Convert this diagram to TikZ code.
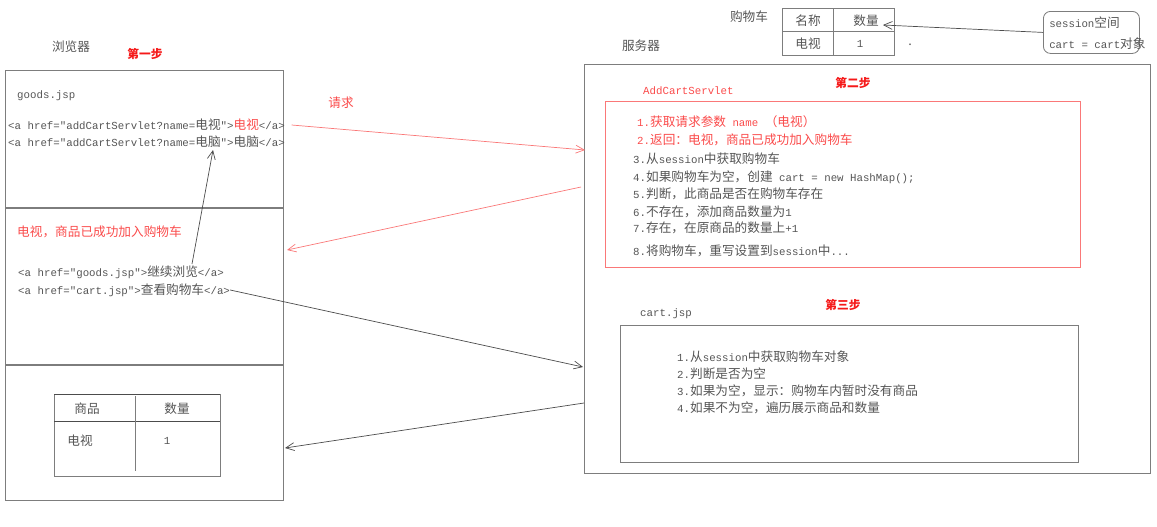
\documentclass[tikz,border=0pt]{standalone}
\usepackage{fontspec}
\setmainfont{Noto Sans CJK SC}
\setmonofont[Scale=0.85]{Liberation Mono}
\usetikzlibrary{positioning,arrows.meta}
\definecolor{boxgray}{RGB}{125,125,125}
\definecolor{txtgray}{RGB}{85,85,85}
\definecolor{stepred}{RGB}{245,25,25}
\definecolor{linkred}{RGB}{250,75,75}
\definecolor{linered}{RGB}{250,120,120}
\newcommand{\asc}[1]{\texttt{#1}}

\begin{document}
\begin{tikzpicture}[x=0.03cm,y=-0.03cm,
  every node/.style={font=\fontsize{10.8}{13}\selectfont, text=txtgray, inner sep=0pt},
  box/.style={draw=boxgray, line width=0.9pt, anchor=north west},
  thinbox/.style={draw=boxgray, line width=0.7pt, anchor=north west},
  redbox/.style={draw=linered, line width=0.8pt, anchor=north west},
  steplbl/.style={text=stepred, font=\fontsize{10}{12}\selectfont\bfseries},
  redtxt/.style={text=linkred},
  flow/.style={-{Straight Barb[length=2.4mm,angle=50:2.8mm]}, line width=0.6pt, draw=black!70},
  redflow/.style={flow, draw=linered}]
\useasboundingbox (0,0) rectangle (1157,526);
% browser side
\node[box, minimum width=8.34cm, minimum height=12.9cm] (browser) at (5,70) {};
\draw[boxgray, line width=0.9pt] (5,208) -- (283,208);
\draw[boxgray, line width=0.9pt] (5,365) -- (283,365);
\node (lblbrowser) at (71,47) {浏览器};
\node[steplbl] (step1) at (145,54) {第一步};
\node[anchor=west] (goodsjsp) at (17,96) {\asc{goods.jsp}};
\node[anchor=west] (link1) at (8,125) {\asc{<a href="addCartServlet?name=}电视\asc{">}{\color{linkred}电视}\asc{</a>}};
\node[anchor=west] (link2) at (8,142) {\asc{<a href="addCartServlet?name=}电脑\asc{">}电脑\asc{</a>}};
\node[anchor=west, redtxt] (addok) at (17,232) {电视，商品已成功加入购物车};
\node[anchor=west] (cont) at (18,272) {\asc{<a href="goods.jsp">}继续浏览\asc{</a>}};
\node[anchor=west] (view) at (18,290) {\asc{<a href="cart.jsp">}查看购物车\asc{</a>}};
\node[thinbox, minimum width=4.98cm, minimum height=2.46cm] (bcart) at (54,394) {};
\draw[black!70, line width=0.8pt] (54,394) -- (220,394);
\draw[black!70, line width=0.8pt] (54,421) -- (220,421);
\draw[boxgray, line width=0.8pt] (135,396) -- (135,471);
\node (bhead1) at (87,409) {商品};
\node (bhead2) at (177,409) {数量};
\node (bname) at (80,441) {电视};
\node (bqty) at (167,441) {\asc{1}};
% server side
\node (lblserver) at (641,46) {服务器};
\node[box, minimum width=16.98cm, minimum height=12.27cm] (server) at (584,64) {};
\node[anchor=west, redtxt] (servletname) at (643,91) {\asc{AddCartServlet}};
\node[steplbl] (step2) at (853,83) {第二步};
\node[redbox, minimum width=14.25cm, minimum height=4.98cm] (servlet) at (605,101) {};
\node[anchor=west, redtxt] (s1) at (637,122) {\asc{1.}获取请求参数\asc{ name }（电视）};
\node[anchor=west, redtxt] (s2) at (637,140) {\asc{2.}返回：电视，商品已成功加入购物车};
\node[anchor=west] (s3) at (633,159) {\asc{3.}从\asc{session}中获取购物车};
\node[anchor=west] (s4) at (633,177) {\asc{4.}如果购物车为空，创建\asc{ cart = new HashMap();}};
\node[anchor=west] (s5) at (633,194) {\asc{5.}判断，此商品是否在购物车存在};
\node[anchor=west] (s6) at (633,212) {\asc{6.}不存在，添加商品数量为\asc{1}};
\node[anchor=west] (s7) at (633,228) {\asc{7.}存在，在原商品的数量上\asc{+1}};
\node[anchor=west] (s8) at (633,251) {\asc{8.}将购物车，重写设置到\asc{session}中\asc{...}};
\node[steplbl] (step3) at (843,305) {第三步};
\node[anchor=west] (cartjsp) at (640,314) {\asc{cart.jsp}};
\node[box, minimum width=13.74cm, minimum height=4.11cm] (cartbox) at (620,325) {};
\node[anchor=west] (c1) at (677,357) {\asc{1.}从\asc{session}中获取购物车对象};
\node[anchor=west] (c2) at (677,374) {\asc{2.}判断是否为空};
\node[anchor=west] (c3) at (677,391) {\asc{3.}如果为空，显示：购物车内暂时没有商品};
\node[anchor=west] (c4) at (677,408) {\asc{4.}如果不为空，遍历展示商品和数量};
% session cart
\node (lblcart) at (749,17) {购物车};
\node[thinbox, minimum width=3.36cm, minimum height=1.41cm] (sesscart) at (782,8) {};
\draw[boxgray, line width=0.7pt] (782,31) -- (894,31);
\draw[boxgray, line width=0.7pt] (833,8) -- (833,55);
\node (thead1) at (808,21) {名称};
\node (thead2) at (866,21) {数量};
\node (tname) at (808,44) {电视};
\node (tqty) at (860,44) {\asc{1}};
\node (dot) at (910,45) {.};
\node[thinbox, rounded corners=6pt, minimum width=2.88cm, minimum height=1.26cm] (session) at (1043,11) {};
\node[anchor=west] (sessname) at (1049,23) {\asc{session}空间};
\node[anchor=west] (sessval) at (1049,44) {\asc{cart = cart}对象};
% connectors
\node[redtxt] (lblreq) at (341,103) {请求};
\coordinate (reqend) at (585,150);
\coordinate (respstart) at (581,187);
\coordinate (respend) at (287,250);
\coordinate (contfrom) at (192,264);
\coordinate (contto) at (213,150);
\coordinate (viewend) at (583,367);
\coordinate (backstart) at (584,403);
\coordinate (backend) at (285,448);
\coordinate (qtyend) at (883,25);
\draw[redflow] ([xshift=0.2cm]link1.east) -- (reqend);
\draw[redflow] (respstart) -- (respend);
\draw[flow] (contfrom) -- (contto);
\draw[flow] (view.east) -- (viewend);
\draw[flow] (backstart) -- (backend);
\draw[flow] (session.west) -- (qtyend);
\end{tikzpicture}
\end{document}
